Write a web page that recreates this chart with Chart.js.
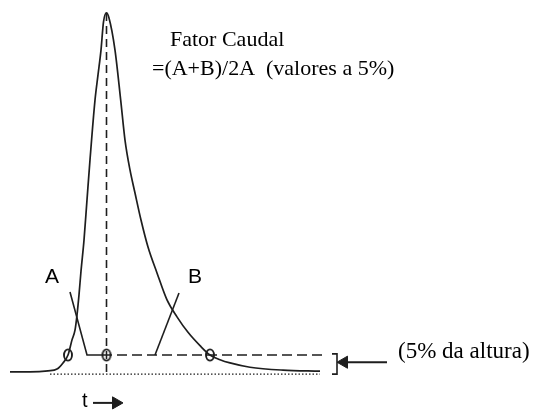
<!DOCTYPE html>
<html>
<head>
<meta charset="utf-8">
<title>Fator Caudal</title>
<script src="https://cdn.jsdelivr.net/npm/chart.js@4"></script>
<style>
  html, body { margin: 0; padding: 0; background: #fff; }
  canvas { display: block; }
</style>
</head>
<body>
<canvas id="peakChart" width="533" height="412"></canvas>
<script>
// Peak profile: time vs signal (% of peak height)
const peakTime = [1.0, 3.0, 4.8, 5.7, 6.3, 6.8, 7.2, 7.5, 7.7, 7.9, 8.1, 8.4, 8.7, 9.0, 9.5, 9.8, 10.1, 10.35, 10.65,
                  10.9, 11.5, 12.07, 12.5, 13.0, 13.5, 14.1, 14.8, 15.7, 16.7, 17.7, 18.8, 20.0, 21.0,
                  22.0, 23.0, 25.0, 28.3, 32.0];
const peakSignal = [0.3, 0.3, 0.6, 1.1, 2.8, 5.0, 9.2, 11.9, 16.1, 21.7, 28.3, 36.9, 48.1, 59.2, 75.8, 82.8, 89.7, 97.5, 100,
                    98.6, 89.7, 75.8, 64.7, 56.4, 50.0, 42.5, 35.0, 27.8, 20.3, 15.6, 11.3, 7.6, 5.0,
                    3.7, 2.8, 1.6, 0.8, 0.5];

// 5% height level and the points measured on it
const level = 5;
const levelTimes = [6.8, 10.65, 21.0];
const apexTime = 10.65;
const apexHeight = 100;

// tangents drawn at the front (A) and tail (B) of the peak
const tangentA = [[7.0, 22.5], [8.7, level], [10.2, level]];
const tangentB = [[15.5, level], [17.9, 22.2]];

const xyPairs = (arr) => arr.map(p => ({ x: p[0], y: p[1] }));

const ink = '#1e1e1e';
const serif = '"Liberation Serif", "Times New Roman", serif';
const sans = '"Liberation Sans", Arial, sans-serif';

// open ellipse used to mark the points at 5% height
const ring = document.createElement('canvas');
ring.width = 12;
ring.height = 16;
const rctx = ring.getContext('2d');
rctx.strokeStyle = ink;
rctx.lineWidth = 1.9;
rctx.beginPath();
rctx.ellipse(6, 8, 4, 5.6, 0, 0, Math.PI * 2);
rctx.stroke();

const notes = [
    { text: 'Fator Caudal', x: 17.0, y: 90.8, font: '22px ' + serif },
    { text: '=(A+B)/2A  (valores a 5%)', x: 15.2, y: 82.8, font: '22px ' + serif },
    { text: '(5% da altura)', x: 39.8, y: 4.2, font: '23px ' + serif },
    { text: 'A', x: 4.5, y: 25.0, font: '21px ' + sans },
    { text: 'B', x: 18.8, y: 25.0, font: '21px ' + sans },
    { text: 't', x: 8.2, y: -9.4, font: '20px ' + sans }
];

const notesPlugin = {
    id: 'notes',
    afterDraw(chart) {
        const c = chart.ctx;
        const xs = chart.scales.x, ys = chart.scales.y;
        c.save();
        c.fillStyle = '#000';
        c.textBaseline = 'alphabetic';
        c.textAlign = 'left';
        notes.forEach(n => {
            c.font = n.font;
            c.fillText(n.text, xs.getPixelForValue(n.x), ys.getPixelForValue(n.y));
        });
        c.restore();
    }
};

const line = (data, extra) => Object.assign({
    data: data,
    showLine: true,
    borderColor: ink,
    borderWidth: 1.6,
    pointRadius: 0,
    fill: false,
    clip: false
}, extra || {});

const ctx = document.getElementById('peakChart').getContext('2d');
const peakChart = new Chart(ctx, {
    type: 'scatter',
    data: {
        datasets: [
            line(peakTime.map((t, i) => ({ x: t, y: peakSignal[i] })), { cubicInterpolationMode: 'monotone', borderWidth: 1.7 }),
            // true baseline
            line([{ x: 5.0, y: -0.3 }, { x: 32.0, y: -0.3 }], { borderDash: [1.5, 2], borderWidth: 1.2 }),
            // 5% level
            line([{ x: 10.2, y: level }, { x: 32.3, y: level }], { borderDash: [10, 5] }),
            // apex drop line
            line([{ x: apexTime, y: apexHeight }, { x: apexTime, y: -1 }], { borderDash: [8, 5] }),
            line(xyPairs(tangentA)),
            line(xyPairs(tangentB)),
            // bracket marking the 5% band
            line([{ x: 33.2, y: 5.3 }, { x: 33.7, y: 5.3 }, { x: 33.7, y: -0.3 }, { x: 33.2, y: -0.3 }]),
            line([{ x: 34.4, y: 3.0 }, { x: 38.7, y: 3.0 }], { borderWidth: 2 }),
            {
                data: [{ x: 34.4, y: 3.0 }],
                pointStyle: 'triangle', rotation: 270, pointRadius: 7,
                backgroundColor: ink, borderColor: ink, clip: false
            },
            // time direction arrow
            line([{ x: 9.3, y: -8.3 }, { x: 11.6, y: -8.3 }], { borderWidth: 2 }),
            {
                data: [{ x: 11.6, y: -8.3 }],
                pointStyle: 'triangle', rotation: 90, pointRadius: 7,
                backgroundColor: ink, borderColor: ink, clip: false
            },
            {
                data: levelTimes.map(t => ({ x: t, y: level })),
                pointStyle: ring, pointRadius: 6, clip: false
            }
        ]
    },
    options: {
        responsive: false,
        animation: false,
        events: [],
        layout: { padding: 0, autoPadding: false },
        plugins: { legend: { display: false }, tooltip: { enabled: false } },
        scales: {
            x: { type: 'linear', min: 0, max: 53.3, display: false },
            y: { type: 'linear', min: -10.83, max: 103.6, display: false }
        }
    },
    plugins: [notesPlugin]
});
</script>
</body>
</html>
